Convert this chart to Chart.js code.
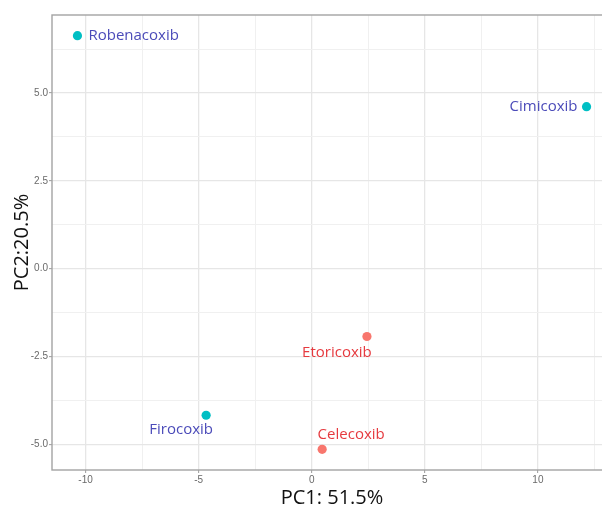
<!DOCTYPE html>
<html>
<head>
<meta charset="utf-8">
<script src="https://cdn.jsdelivr.net/npm/chart.js@4.4.1/dist/chart.umd.min.js"></script>
<style>
  html, body { margin: 0; padding: 0; background: #fff; overflow: hidden; }
  #wrap { position: relative; width: 612px; height: 508px; }
</style>
</head>
<body>
<div id="wrap"><canvas id="c" width="612" height="508"></canvas></div>
<script>
// PCA scores of the coxibs
const compounds = ['Robenacoxib', 'Cimicoxib', 'Firocoxib', 'Etoricoxib', 'Celecoxib'];
const pc1 = [-10.36, 12.15, -4.67, 2.44, 0.46];
const pc2 = [6.63, 4.61, -4.17, -1.93, -5.14];
const groups = ['veterinary', 'veterinary', 'veterinary', 'human', 'human'];

// axis ticks and extra (minor) grid lines
const xTickValues = [-10, -5, 0, 5, 10];
const xTickLabels = ['-10', '-5', '0', '5', '10'];
const yTickValues = [-5, -2.5, 0, 2.5, 5];
const yTickLabels = ['-5.0', '-2.5', '0.0', '2.5', '5.0'];
const xMinorGrid = [-7.5, -2.5, 2.5, 7.5, 12.5];
const yMinorGrid = [-3.75, -1.25, 1.25, 3.75, 6.25];

const groupStyle = {
  veterinary: { point: '#00BFC4', text: '#4B4BB9' },
  human:      { point: '#F8766D', text: '#E63A3F' }
};

// where each name sits relative to its point
const labelPlacement = {
  Robenacoxib: { dx: 11,  dy: 0,   align: 'left' },
  Cimicoxib:   { dx: -9,  dy: 0,   align: 'right' },
  Firocoxib:   { dx: -25, dy: 15,  align: 'center' },
  Etoricoxib:  { dx: -30, dy: 16,  align: 'center' },
  Celecoxib:   { dx: 29,  dy: -15, align: 'center' }
};

// 5% padding on both sides of the data range
function expanded(vals) {
  const lo = Math.min(...vals), hi = Math.max(...vals);
  const pad = (hi - lo) * 0.05;
  return [lo - pad, hi + pad];
}
const [xMin, xMax] = expanded(pc1);
const [yMin, yMax] = expanded(pc2);

const groupNames = ['veterinary', 'human'];
const datasets = groupNames.map(g => ({
  label: g,
  data: compounds.map((name, i) => ({ x: pc1[i], y: pc2[i], name, g: groups[i] }))
                 .filter(p => p.g === g),
  backgroundColor: groupStyle[g].point,
  borderWidth: 0,
  pointRadius: 4.6,
  pointHoverRadius: 4.6
}));

function isMajor(list, v) { return list.some(t => Math.abs(t - v) < 1e-9); }

const pointLabels = {
  id: 'pointLabels',
  afterDatasetsDraw(chart) {
    const ctx = chart.ctx;
    ctx.save();
    ctx.font = '15px "Open Sans"';
    ctx.textBaseline = 'middle';
    chart.data.datasets.forEach((ds, di) => {
      const meta = chart.getDatasetMeta(di);
      ds.data.forEach((p, i) => {
        const el = meta.data[i];
        const pl = labelPlacement[p.name];
        ctx.fillStyle = groupStyle[p.g].text;
        ctx.textAlign = pl.align;
        ctx.fillText(p.name, el.x + pl.dx, el.y + pl.dy);
      });
    });
    ctx.restore();
  }
};

const panelBorder = {
  id: 'panelBorder',
  beforeDatasetsDraw(chart) {
    const { left, top, right, bottom } = chart.chartArea;
    const ctx = chart.ctx;
    ctx.save();
    ctx.strokeStyle = '#A3A3A3';
    ctx.lineWidth = 1.4;
    ctx.strokeRect(left, top, right - left, bottom - top);
    ctx.restore();
  }
};

const tickFont = { family: '"Liberation Sans", Arial, sans-serif', size: 10 };
const titleFont = { family: '"Open Sans"', size: 20 };

new Chart(document.getElementById('c'), {
  type: 'scatter',
  data: { datasets },
  plugins: [panelBorder, pointLabels],
  options: {
    responsive: false,
    animation: false,
    events: [],
    layout: { autoPadding: false, padding: { top: 15, left: 0, right: 0, bottom: 0 } },
    plugins: { legend: { display: false }, tooltip: { enabled: false } },
    scales: {
      x: {
        type: 'linear',
        min: xMin,
        max: xMax,
        afterBuildTicks: s => {
          s.ticks = [...xTickValues, ...xMinorGrid].sort((a, b) => a - b).map(v => ({ value: v }));
        },
        afterFit: s => { s.height = 38; },
        border: { display: false },
        grid: {
          color: c => isMajor(xTickValues, c.tick.value) ? '#E6E6E6' : '#F0F0F0',
          lineWidth: c => isMajor(xTickValues, c.tick.value) ? 1.3 : 1,
          tickColor: c => isMajor(xTickValues, c.tick.value) ? '#9A9A9A' : 'rgba(0,0,0,0)',
          tickLength: 3,
          tickWidth: 1
        },
        ticks: {
          autoSkip: false,
          maxRotation: 0,
          padding: 1,
          color: '#6A6A6A',
          font: tickFont,
          callback: v => {
            const i = xTickValues.findIndex(t => Math.abs(t - v) < 1e-9);
            return i >= 0 ? xTickLabels[i] : '';
          }
        },
        title: {
          display: true,
          text: 'PC1: 51.5%',
          color: '#111',
          font: titleFont,
          padding: { top: 0, bottom: -2 }
        }
      },
      y: {
        type: 'linear',
        min: yMin,
        max: yMax,
        afterBuildTicks: s => {
          s.ticks = [...yTickValues, ...yMinorGrid].sort((a, b) => a - b).map(v => ({ value: v }));
        },
        afterFit: s => { s.width = 52; },
        border: { display: false },
        grid: {
          color: c => isMajor(yTickValues, c.tick.value) ? '#E6E6E6' : '#F0F0F0',
          lineWidth: c => isMajor(yTickValues, c.tick.value) ? 1.3 : 1,
          tickColor: c => isMajor(yTickValues, c.tick.value) ? '#9A9A9A' : 'rgba(0,0,0,0)',
          tickLength: 3,
          tickWidth: 1
        },
        ticks: {
          autoSkip: false,
          padding: 1,
          color: '#6A6A6A',
          font: tickFont,
          callback: v => {
            const i = yTickValues.findIndex(t => Math.abs(t - v) < 1e-9);
            return i >= 0 ? yTickLabels[i] : '';
          }
        },
        title: {
          display: true,
          text: 'PC2:20.5%',
          color: '#111',
          font: titleFont,
          padding: { top: 10, bottom: 0 }
        }
      }
    }
  }
});
</script>
</body>
</html>
